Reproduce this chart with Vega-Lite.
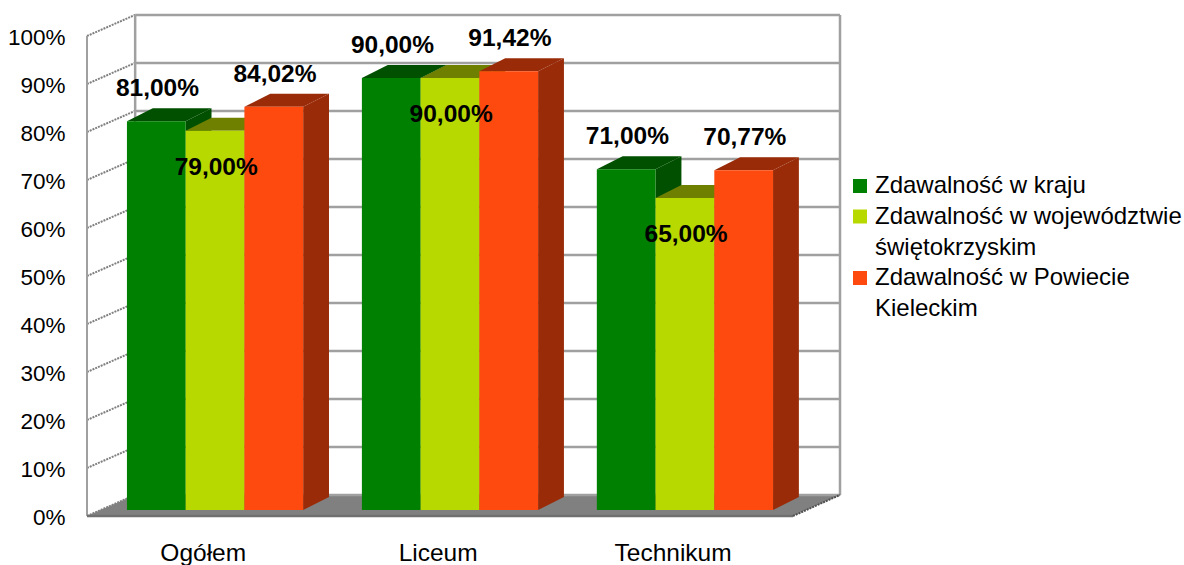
{
"$schema":"https://vega.github.io/schema/vega-lite/v6.json",
"width":753,"height":504,
"padding":{"left":87,"top":12,"right":344,"bottom":49},
"autosize":"none",
"background":"white",
"config":{"view":{"stroke":null},"font":"Liberation Sans","axis":{"grid":false,"ticks":false,"domain":false,"title":null}},
"datasets":{
"scores":[
{"kategoria":"Ogółem","seria":"Zdawalność w kraju","wynik":81.0},
{"kategoria":"Ogółem","seria":"Zdawalność w województwie świętokrzyskim","wynik":79.0},
{"kategoria":"Ogółem","seria":"Zdawalność w Powiecie Kieleckim","wynik":84.02},
{"kategoria":"Liceum","seria":"Zdawalność w kraju","wynik":90.0},
{"kategoria":"Liceum","seria":"Zdawalność w województwie świętokrzyskim","wynik":90.0},
{"kategoria":"Liceum","seria":"Zdawalność w Powiecie Kieleckim","wynik":91.42},
{"kategoria":"Technikum","seria":"Zdawalność w kraju","wynik":71.0},
{"kategoria":"Technikum","seria":"Zdawalność w województwie świętokrzyskim","wynik":65.0},
{"kategoria":"Technikum","seria":"Zdawalność w Powiecie Kieleckim","wynik":70.77}
],
"ticks":[{"pct":0},{"pct":10},{"pct":20},{"pct":30},{"pct":40},{"pct":50},{"pct":60},{"pct":70},{"pct":80},{"pct":90},{"pct":100}]
},
"layer":[
{"data":{"values":[{"strona":"przod"},{"strona":"tyl"}]},
 "transform":[{"calculate":"datum.strona=='przod'?0:4.4","as":"yy"},{"calculate":"datum.strona=='przod'?0:0.82","as":"xa"},{"calculate":"datum.strona=='przod'?12.02:12.82","as":"xb"}],
 "mark":{"type":"area","orient":"horizontal","color":"#808080"},
 "encoding":{
  "y":{"field":"yy","type":"quantitative","scale":{"domain":[0,105],"nice":false,"zero":false},"title":null,
   "axis":{"values":[0,10,20,30,40,50,60,70,80,90,100],"labelExpr":"datum.value+'%'","labelFontSize":22.5,"labelFont":"Liberation Sans","labelColor":"#000","labelPadding":22,"labelOffset":1.5,"ticks":false,"domain":false,"grid":false,"title":null}},
  "x":{"field":"xa","type":"quantitative","scale":{"domain":[0,12.82],"nice":false,"zero":false},"title":null,
   "axis":{"values":[1.97,5.97,9.97],"labelExpr":"datum.value<3?'Ogółem':datum.value<7?'Liceum':'Technikum'","labelFontSize":24.5,"labelFont":"Liberation Sans","labelColor":"#000","labelPadding":37,"ticks":false,"domain":false,"grid":false,"title":null,"labelBaseline":"middle"}},
  "x2":{"field":"xb"}
 }},
{"data":{"name":"ticks"},
 "mark":{"type":"rule","color":"#a0a0a0","strokeWidth":2.5},
 "transform":[{"calculate":"datum.pct+4.4","as":"ty"}],
 "encoding":{"x":{"datum":0.82,"type":"quantitative","scale":{"domain":[0,12.82],"nice":false,"zero":false},"title":null},"x2":{"datum":12.82},
  "y":{"field":"ty","type":"quantitative","scale":{"domain":[0,105],"nice":false,"zero":false},"title":null}}},
{"data":{"name":"ticks"},
 "mark":{"type":"rule","color":"#808080","strokeWidth":2,"strokeDash":[2,1]},
 "transform":[{"calculate":"datum.pct+4.4","as":"ty"}],
 "encoding":{"x":{"datum":0,"type":"quantitative","scale":{"domain":[0,12.82],"nice":false,"zero":false},"title":null},"x2":{"datum":0.82},
  "y":{"field":"pct","type":"quantitative","scale":{"domain":[0,105],"nice":false,"zero":false},"title":null},"y2":{"field":"ty"}}},
{"data":{"values":[{}]},
 "mark":{"type":"rule","color":"#a0a0a0","strokeWidth":2},
 "encoding":{"x":{"datum":0,"type":"quantitative","scale":{"domain":[0,12.82],"nice":false,"zero":false},"title":null},
  "y":{"datum":0,"type":"quantitative","scale":{"domain":[0,105],"nice":false,"zero":false},"title":null},"y2":{"datum":100}}},
{"data":{"values":[{}]},
 "mark":{"type":"rule","color":"#a0a0a0","strokeWidth":2.5},
 "encoding":{"x":{"datum":0.82,"type":"quantitative","scale":{"domain":[0,12.82],"nice":false,"zero":false},"title":null},
  "y":{"datum":4.4,"type":"quantitative","scale":{"domain":[0,105],"nice":false,"zero":false},"title":null},"y2":{"datum":104.4}}},
{"data":{"values":[{}]},
 "mark":{"type":"rule","color":"#a0a0a0","strokeWidth":2.5},
 "encoding":{"x":{"datum":12.82,"type":"quantitative","scale":{"domain":[0,12.82],"nice":false,"zero":false},"title":null},
  "y":{"datum":4.4,"type":"quantitative","scale":{"domain":[0,105],"nice":false,"zero":false},"title":null},"y2":{"datum":104.4}}},
{"data":{"values":[{}]},
 "mark":{"type":"rule","color":"#707070","strokeWidth":2.5},
 "encoding":{"x":{"datum":0,"type":"quantitative","scale":{"domain":[0,12.82],"nice":false,"zero":false},"title":null},"x2":{"datum":12.02},
  "y":{"datum":0,"type":"quantitative","scale":{"domain":[0,105],"nice":false,"zero":false},"title":null}}},
{"data":{"values":[{}]},
 "mark":{"type":"rule","color":"#505050","strokeWidth":2,"strokeDash":[2,1]},
 "encoding":{"x":{"datum":12.02,"type":"quantitative","scale":{"domain":[0,12.82],"nice":false,"zero":false},"title":null},"x2":{"datum":12.82},
  "y":{"datum":0,"type":"quantitative","scale":{"domain":[0,105],"nice":false,"zero":false},"title":null},"y2":{"datum":4.4}}},
{"data":{"name":"scores"},
 "transform":[
  {"calculate":"indexof(['Ogółem','Liceum','Technikum'],datum.kategoria)","as":"ci"},
  {"calculate":"indexof(['Zdawalność w kraju','Zdawalność w województwie świętokrzyskim','Zdawalność w Powiecie Kieleckim'],datum.seria)","as":"si"},
  {"calculate":"0.68+4*datum.ci+datum.si","as":"x0"},
  {"calculate":"datum.x0+1","as":"x1"},
  {"calculate":"datum.wynik+1.25","as":"top"},
  {"calculate":"datum.ci*3+datum.si","as":"bar"},
  {"calculate":"replace(format(datum.wynik,'.2f'),'.',',')+'%'","as":"etykieta"},
  {"calculate":"datum.si==1?datum.top-7.8:datum.top+6.7","as":"ly"},
  {"calculate":"datum.x0+0.52","as":"lx"}
 ],
 "resolve":{"scale":{"color":"independent"}},
 "layer":[
 {"transform":[{"calculate":"[0,1]","as":"t"},{"flatten":["t"]},
   {"calculate":"datum.x1+0.44*datum.t","as":"sx"},{"calculate":"1.25+2.7*datum.t","as":"sb"},{"calculate":"datum.top+2.7*datum.t","as":"st"}],
  "mark":{"type":"area","orient":"vertical"},
  "encoding":{"detail":{"field":"bar"},
   "x":{"field":"sx","type":"quantitative","scale":{"domain":[0,12.82],"nice":false,"zero":false},"title":null},
   "y":{"field":"sb","type":"quantitative","scale":{"domain":[0,105],"nice":false,"zero":false},"stack":null,"title":null},
   "y2":{"field":"st"},
   "color":{"field":"seria","type":"nominal","legend":null,"scale":{"domain":["Zdawalność w kraju","Zdawalność w województwie świętokrzyskim","Zdawalność w Powiecie Kieleckim"],"range":["#005000","#6f8000","#992b08"]}}}
 },
 {"transform":[{"calculate":"[0,1]","as":"t"},{"flatten":["t"]},
   {"calculate":"datum.x0+0.44*datum.t","as":"tl"},{"calculate":"datum.x1+0.44*datum.t","as":"tr"},{"calculate":"datum.top+2.7*datum.t","as":"ty"}],
  "mark":{"type":"area","orient":"horizontal"},
  "encoding":{"detail":{"field":"bar"},
   "y":{"field":"ty","type":"quantitative","scale":{"domain":[0,105],"nice":false,"zero":false},"title":null},
   "x":{"field":"tl","type":"quantitative","scale":{"domain":[0,12.82],"nice":false,"zero":false},"stack":null,"title":null},
   "x2":{"field":"tr"},
   "color":{"field":"seria","type":"nominal","legend":null,"scale":{"domain":["Zdawalność w kraju","Zdawalność w województwie świętokrzyskim","Zdawalność w Powiecie Kieleckim"],"range":["#005000","#6f8000","#992b08"]}}}
 },
 {"mark":{"type":"rect"},
  "encoding":{
   "x":{"field":"x0","type":"quantitative","scale":{"domain":[0,12.82],"nice":false,"zero":false},"title":null},"x2":{"field":"x1"},
   "y":{"field":"top","type":"quantitative","scale":{"domain":[0,105],"nice":false,"zero":false},"title":null},"y2":{"datum":1.25},
   "color":{"field":"seria","type":"nominal","scale":{"domain":["Zdawalność w kraju","Zdawalność w województwie świętokrzyskim","Zdawalność w Powiecie Kieleckim"],"range":["#008000","#b8d900","#ff4a0f"]},
    "legend":{"orient":"none","legendX":761,"legendY":162,"title":null,"symbolType":"square","symbolSize":196,"symbolStrokeWidth":0,"labelFont":"Liberation Sans","labelFontSize":24,"labelColor":"#000","labelLimit":400,"labelOffset":3,
     "labelExpr":"datum.label=='Zdawalność w województwie świętokrzyskim'?['Zdawalność w województwie','świętokrzyskim']:datum.label=='Zdawalność w Powiecie Kieleckim'?['Zdawalność w Powiecie','Kieleckim']:datum.label",
     "rowPadding":6.5,"encode":{"labels":{"update":{"lineHeight":{"value":31}}}}}}}
 },
 {"mark":{"type":"text","font":"Liberation Sans","fontWeight":"bold","fontSize":24.5,"color":"#000"},
  "encoding":{
   "x":{"field":"lx","type":"quantitative","scale":{"domain":[0,12.82],"nice":false,"zero":false},"title":null},
   "y":{"field":"ly","type":"quantitative","scale":{"domain":[0,105],"nice":false,"zero":false},"title":null},
   "text":{"field":"etykieta"}}}
 ]}
]
}
